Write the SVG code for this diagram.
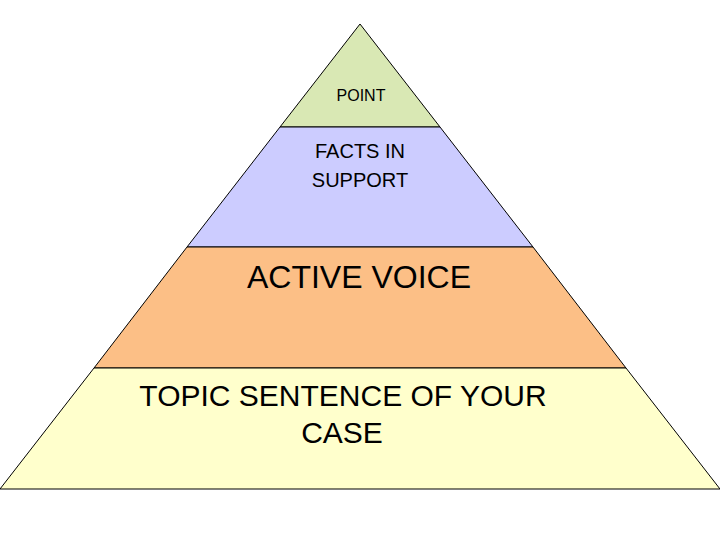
<svg xmlns="http://www.w3.org/2000/svg" width="720" height="540" viewBox="0 0 720 540">
<style>
.t{stroke:#000;stroke-width:1}
text{font-family:"Liberation Sans",Arial,sans-serif;fill:#000;text-anchor:middle}
</style>
<rect width="720" height="540" fill="#fff"/>
<g id="tier1"><polygon class="t" points="360,24 440,127 280,127" fill="#d9e8b4"/><text x="361" y="101" font-size="16">POINT</text></g>
<g id="tier2"><polygon class="t" points="280,127 440,127 533,247 187,247" fill="#ccccff"/><text x="360" y="158" font-size="20">FACTS IN</text><text x="360" y="187" font-size="20">SUPPORT</text></g>
<g id="tier3"><polygon class="t" points="187,247 533,247 626,368 94,368" fill="#fcbf86"/><text x="359" y="288" font-size="32">ACTIVE VOICE</text></g>
<g id="tier4"><polygon class="t" points="94,368 626,368 720,489 0,489" fill="#ffffcc"/><text x="343" y="406" font-size="30">TOPIC SENTENCE OF YOUR</text><text x="342" y="443" font-size="30">CASE</text></g>
<g id="connectors"/>
</svg>
